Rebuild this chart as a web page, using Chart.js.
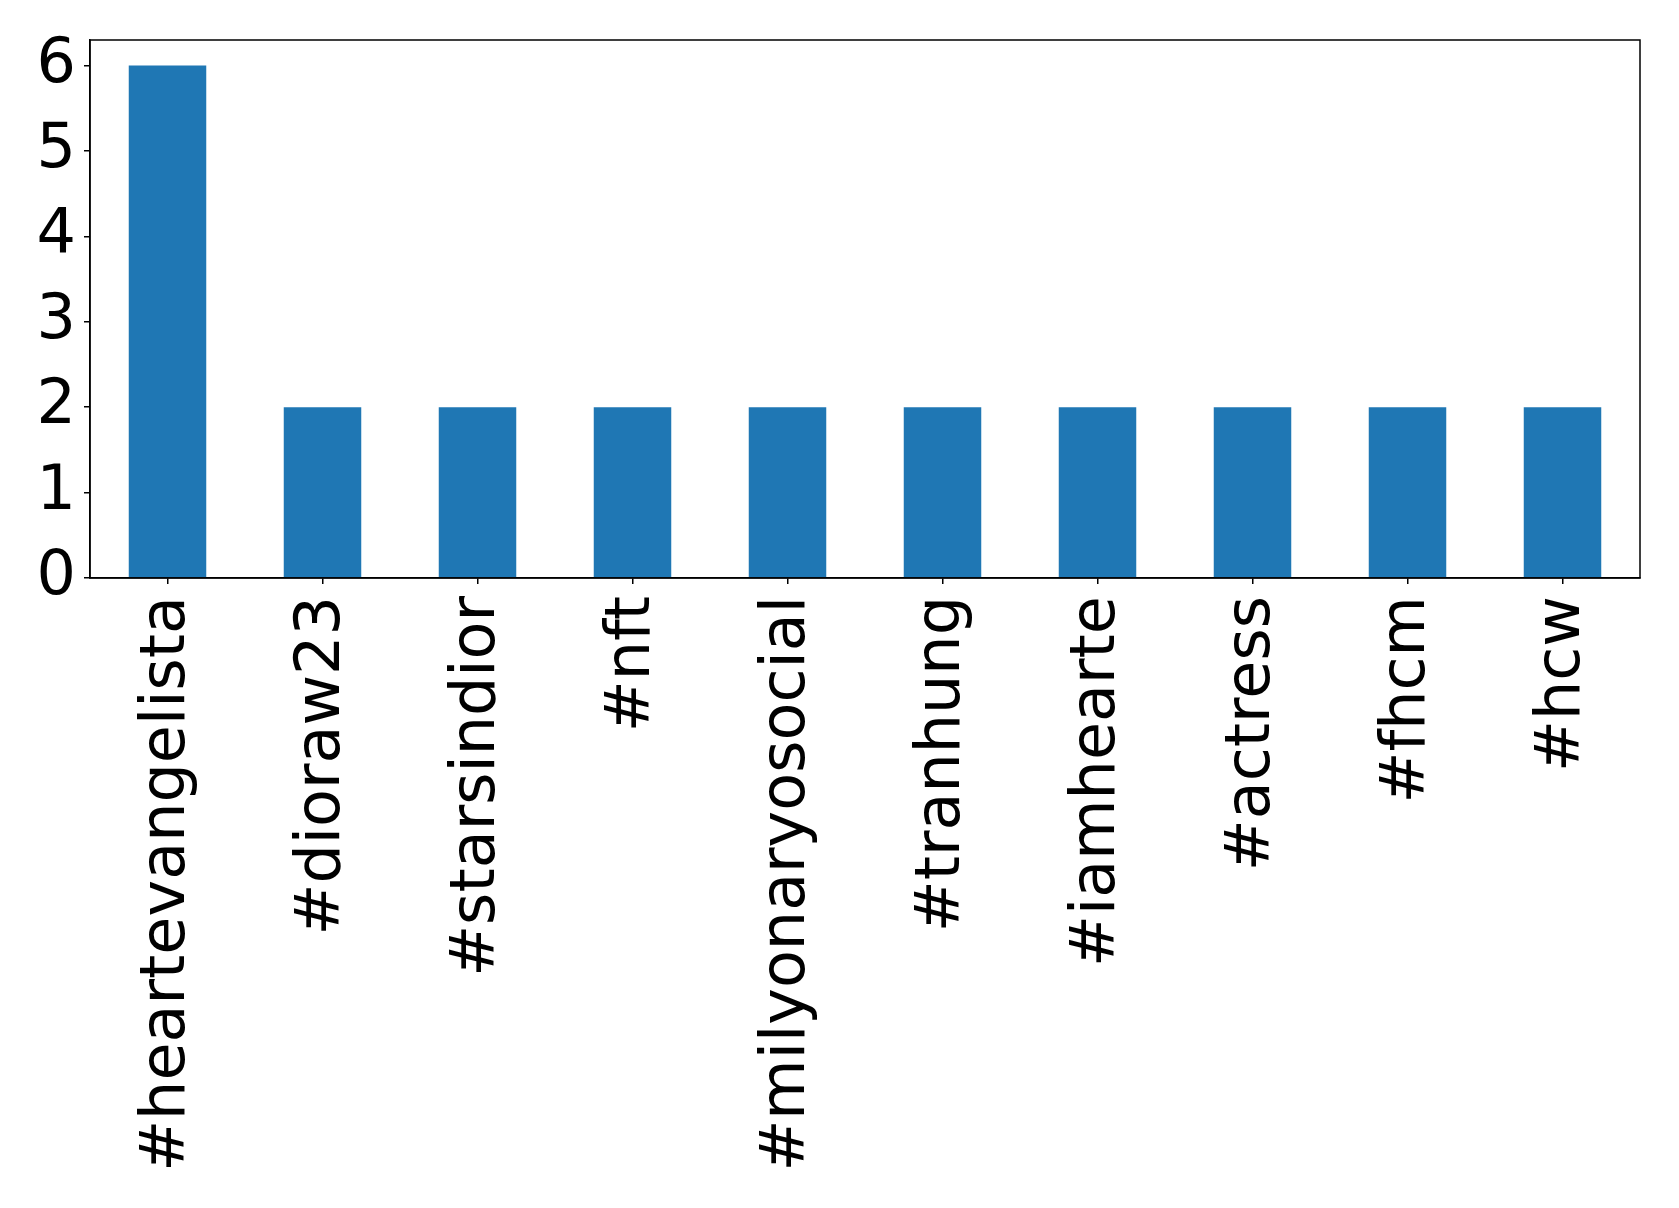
<!DOCTYPE html>
<html>
<head>
<meta charset="utf-8">
<script src="https://cdn.jsdelivr.net/npm/chart.js@4.4.1/dist/chart.umd.min.js"></script>
<style>
  html, body { margin: 0; padding: 0; background: #fff; }
  #wrap { width: 1679px; height: 1208px; }
</style>
</head>
<body>
<div id="wrap"><canvas id="chart" width="1679" height="1208"></canvas></div>
<script>
const hashtags = ['#heartevangelista', '#dioraw23', '#starsindior', '#nft', '#milyonaryosocial',
  '#tranhung', '#iamhearte', '#actress', '#fhcm', '#hcw'];
const counts = [6, 2, 2, 2, 2, 2, 2, 2, 2, 2];
const yTicks = [0, 1, 2, 3, 4, 5, 6];

const frame = {
  id: 'frame',
  afterDraw(chart) {
    const { ctx, chartArea: a } = chart;
    ctx.save();
    ctx.strokeStyle = '#000';
    ctx.lineWidth = 1.5;
    ctx.strokeRect(a.left, a.top, a.right - a.left, a.bottom - a.top);
    ctx.restore();
  }
};

const ctx = document.getElementById('chart').getContext('2d');
new Chart(ctx, {
  type: 'bar',
  data: {
    labels: hashtags,
    datasets: [{
      data: counts,
      backgroundColor: '#1f77b4',
      borderWidth: 0,
      categoryPercentage: 1,
      barPercentage: 0.5
    }]
  },
  options: {
    responsive: false,
    animation: false,
    layout: { padding: { left: 0, right: 39, top: 40, bottom: 0 } },
    plugins: {
      legend: { display: false },
      tooltip: { enabled: false },
      title: { display: false }
    },
    scales: {
      x: {
        offset: true,
        grid: { display: true, offset: false, drawOnChartArea: false, tickLength: 6, color: '#000', lineWidth: 1.5 },
        border: { display: true, color: '#000', width: 1.5 },
        ticks: {
          color: '#000',
          minRotation: 90,
          maxRotation: 90,
          autoSkip: false,
          padding: 12,
          font: { family: 'DejaVu Sans', size: 62 }
        },
        afterFit(scale) {
          scale.height = 1208 - 578;
          scale.paddingLeft = 0;
          scale.paddingRight = 0;
        }
      },
      y: {
        min: 0,
        max: 6.3,
        afterBuildTicks(scale) { scale.ticks = yTicks.map(v => ({ value: v })); },
        grid: { display: true, drawOnChartArea: false, tickLength: 6, color: '#000', lineWidth: 1.5 },
        border: { display: true, color: '#000', width: 1.5 },
        ticks: {
          color: '#000',
          padding: 8,
          font: { family: 'DejaVu Sans', size: 62 }
        },
        afterFit(scale) {
          scale.width = 90;
          scale.paddingTop = 0;
          scale.paddingBottom = 0;
        }
      }
    }
  },
  plugins: [frame]
});
</script>
</body>
</html>
